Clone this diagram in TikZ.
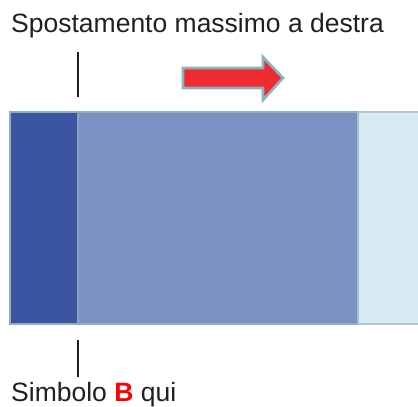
\documentclass[tikz,border=0pt]{standalone}
\usepackage{fontspec}
\setmainfont{Liberation Sans}
\definecolor{darkblue}{HTML}{3C55A0}
\definecolor{midblue}{HTML}{7A91C1}
\definecolor{paleblue}{HTML}{D8EAF1}
\definecolor{rimcol}{HTML}{8CB2BD}
\definecolor{txtcol}{HTML}{231F20}
\definecolor{arrowred}{HTML}{EE2B2F}
\tikzset{
  lbl/.style={anchor=base west, inner sep=0pt, text=txtcol, font=\fontsize{26.5}{30}\selectfont},
  tick/.style={draw=txtcol, line width=2.2pt},
  rim/.style={draw=rimcol, line width=2.6pt}
}
\begin{document}
\begin{tikzpicture}[x=1pt,y=-1pt]
\useasboundingbox (0,0) rectangle (418,407);
% sections
\fill[paleblue] (358,112) rectangle (420,324);
\fill[midblue] (78,112) rectangle (358,324);
\fill[darkblue] (10,112) rectangle (78,324);
\draw[draw=rimcol!70!white, line width=2.6pt] (358,112) -- (420,112);
\draw[draw=rimcol!70!white, line width=2.6pt] (358,324) -- (420,324);
\draw[rim] (358,112) -- (10,112) -- (10,324) -- (358,324);
\draw[draw=rimcol!80!white, line width=2.6pt] (358,112) -- (358,324);
\draw[draw=rimcol!60!midblue, line width=1.4pt] (78,112) -- (78,324);
% tick marks
\draw[tick] (78,52) -- (78,97);
\draw[tick] (78,340) -- (78,377);
% arrow
\draw[draw=rimcol, line width=2.6pt, fill=arrowred, line join=miter]
  (183,68) -- (263,68) -- (263,57) -- (283,78) -- (263,100) -- (263,88) -- (183,88) -- cycle;
% labels
\node[lbl] (top) at (11,32) {Spostamento massimo a destra};
\node[lbl] (bot) at (11,401) {Simbolo \textcolor{red}{\textbf{B}} qui};
\end{tikzpicture}
\end{document}
